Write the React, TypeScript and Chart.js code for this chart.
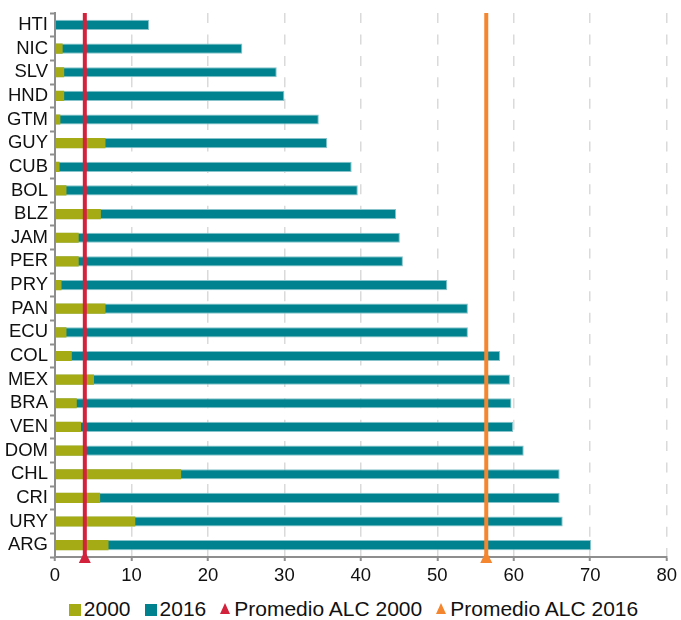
import React, { useEffect, useRef } from 'react';
import { Chart, registerables } from 'chart.js';

Chart.register(...registerables);

const countries = ['HTI', 'NIC', 'SLV', 'HND', 'GTM', 'GUY', 'CUB', 'BOL', 'BLZ', 'JAM', 'PER', 'PRY', 'PAN', 'ECU', 'COL', 'MEX', 'BRA', 'VEN', 'DOM', 'CHL', 'CRI', 'URY', 'ARG'];
const values2000 = [0, 1.0, 1.2, 1.2, 0.7, 6.6, 0.6, 1.5, 6.0, 3.1, 3.1, 0.85, 6.6, 1.5, 2.2, 5.1, 2.85, 3.4, 3.9, 16.5, 5.9, 10.5, 7.0];
const values2016 = [12.3, 24.5, 29.0, 30.0, 34.5, 35.6, 38.8, 39.6, 44.6, 45.1, 45.5, 51.3, 54.0, 54.0, 58.2, 59.5, 59.7, 59.9, 61.3, 66.0, 66.0, 66.4, 70.1];
const avg2000 = 3.9;
const avg2016 = 56.4;
const xMin = 0;
const xMax = 80;
const xStep = 10;

const seriesLabels = ['2000', '2016'];
const avgLabels = ['Promedio ALC 2000', 'Promedio ALC 2016'];

const OLIVE = '#A5AB14';
const TEAL = '#00838F';
const TEAL_EDGE = '#86C3CA';
const RED = '#D2223C';
const ORANGE = '#F4862F';
const AXIS = '#8E8E8E';
const GRID = '#DADADA';
const FONT = "'Liberation Sans', Arial, sans-serif";

const avgLinesPlugin = {
  id: 'avgLines',
  afterDraw(chart: any) {
    const { ctx, chartArea, scales } = chart;
    const x = scales.x;
    const items: [number, string][] = [[avg2000, RED], [avg2016, ORANGE]];
    items.forEach(([v, c]) => {
      const px = x.getPixelForValue(v);
      ctx.save();
      ctx.strokeStyle = c;
      ctx.lineWidth = 4;
      ctx.beginPath();
      ctx.moveTo(px, chartArea.top);
      ctx.lineTo(px, chartArea.bottom);
      ctx.stroke();
      ctx.fillStyle = c;
      ctx.beginPath();
      ctx.moveTo(px, chartArea.bottom - 6);
      ctx.lineTo(px + 6, chartArea.bottom + 6);
      ctx.lineTo(px - 6, chartArea.bottom + 6);
      ctx.closePath();
      ctx.fill();
      ctx.restore();
    });
  },
};

const legendItems = [
  { label: seriesLabels[0], color: OLIVE, shape: 'square' },
  { label: seriesLabels[1], color: TEAL, shape: 'square' },
  { label: avgLabels[0], color: RED, shape: 'triangle' },
  { label: avgLabels[1], color: ORANGE, shape: 'triangle' },
];

export default function App() {
  const canvasRef = useRef<HTMLCanvasElement | null>(null);

  useEffect(() => {
    if (!canvasRef.current) return;
    const chart = new Chart(canvasRef.current, {
      type: 'bar',
      data: {
        labels: countries,
        datasets: [
          {
            label: seriesLabels[0],
            data: values2000,
            backgroundColor: OLIVE,
            borderWidth: 0,
            grouped: false,
            categoryPercentage: 1,
            barPercentage: 0.43,
          } as any,
          {
            label: seriesLabels[1],
            data: values2016,
            backgroundColor: TEAL,
            borderColor: TEAL_EDGE,
            borderWidth: 1,
            grouped: false,
            categoryPercentage: 1,
            barPercentage: 0.43,
          } as any,
        ],
      },
      options: {
        indexAxis: 'y',
        responsive: false,
        animation: false,
        layout: { padding: { top: 10, right: 14, left: 0, bottom: 0 } },
        plugins: {
          legend: { display: false },
          tooltip: { enabled: false },
        },
        scales: {
          x: {
            min: xMin,
            max: xMax,
            ticks: {
              stepSize: xStep,
              color: '#111',
              font: { family: FONT, size: 18.5 },
              padding: 4,
              maxRotation: 0,
            },
            grid: {
              color: GRID,
              lineWidth: 1.5,
              drawTicks: true,
              tickLength: 4,
              tickColor: AXIS,
              tickWidth: 2,
              tickBorderDash: [],
            } as any,
            border: { display: true, color: AXIS, width: 2, dash: [10, 11.4] },
            afterFit: (scale: any) => {
              scale.height = 30;
            },
          },
          y: {
            ticks: {
              color: '#111',
              font: { family: FONT, size: 18.5 },
              padding: 2,
              autoSkip: false,
            },
            grid: {
              offset: true,
              drawOnChartArea: false,
              drawTicks: true,
              tickLength: 5,
              tickColor: AXIS,
              tickWidth: 2,
            },
            border: { display: true, color: AXIS, width: 2, z: 1 } as any,
            afterFit: (scale: any) => {
              scale.width = 55;
            },
          },
        },
      },
      plugins: [avgLinesPlugin],
    });
    return () => chart.destroy();
  }, []);

  return (
    <div style={{ position: 'fixed', left: 0, top: 0, width: 681, height: 620, background: '#fff' }}>
      <canvas ref={canvasRef} width={681} height={587} style={{ width: 681, height: 587, display: 'block' }} />
      <div
        style={{
          position: 'absolute',
          top: 597,
          left: 0,
          width: 681,
          display: 'flex',
          justifyContent: 'center',
          alignItems: 'flex-end',
          fontFamily: FONT,
          fontSize: 21,
          color: '#111',
          lineHeight: '23px',
          paddingLeft: 26,
          boxSizing: 'border-box',
        }}
      >
        {legendItems.map((it, i) => (
          <div key={it.label} style={{ display: 'flex', alignItems: 'flex-end', marginLeft: i === 0 ? 0 : 14 }}>
            {it.shape === 'square' ? (
              <span style={{ display: 'inline-block', width: 12, height: 12, background: it.color, marginRight: 3, marginBottom: 4 }} />
            ) : (
              <span
                style={{
                  display: 'inline-block',
                  width: 0,
                  height: 0,
                  borderLeft: '5.5px solid transparent',
                  borderRight: '5.5px solid transparent',
                  borderBottom: '11px solid ' + it.color,
                  marginRight: 4,
                  marginBottom: 6,
                }}
              />
            )}
            <span>{it.label}</span>
          </div>
        ))}
      </div>
    </div>
  );
}
